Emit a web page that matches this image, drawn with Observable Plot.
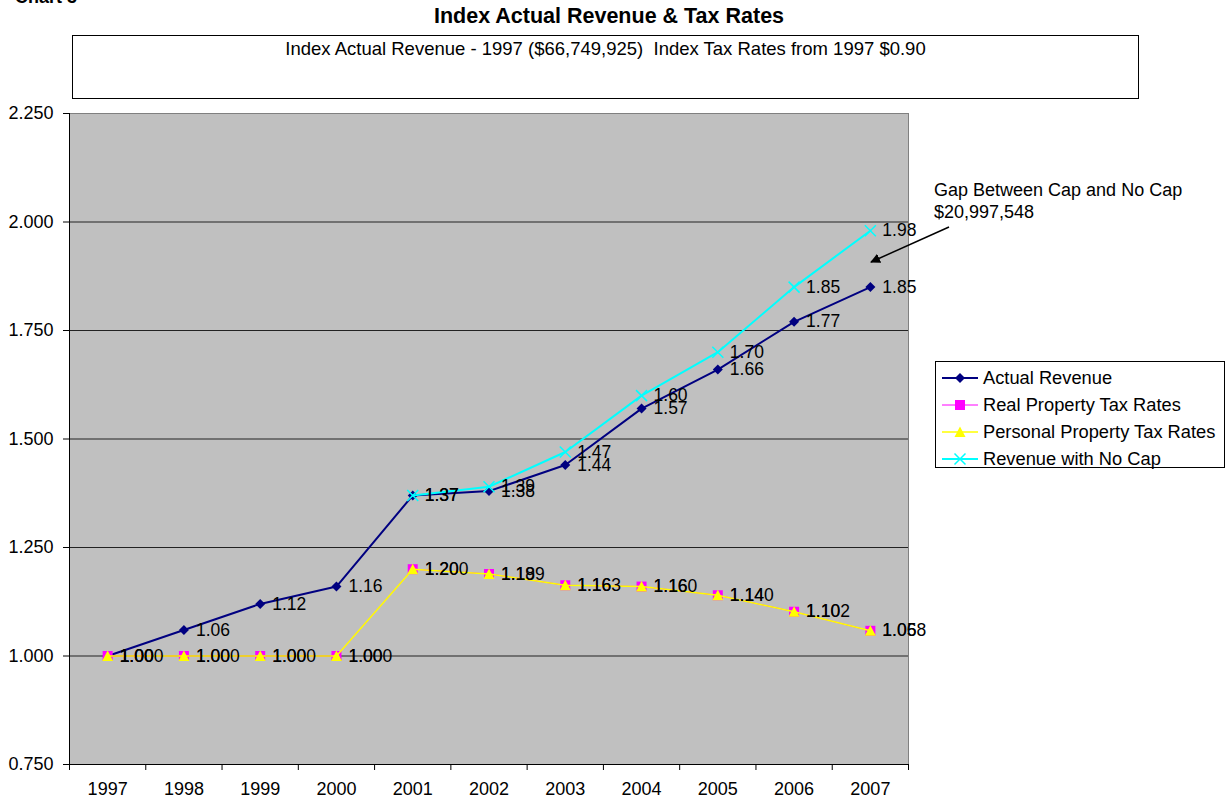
<!DOCTYPE html>
<html>
<head>
<meta charset="utf-8">
<script src="https://cdn.jsdelivr.net/npm/d3@7"></script>
<script src="https://cdn.jsdelivr.net/npm/@observablehq/plot@0.6"></script>
<style>
  html, body { margin: 0; padding: 0; background: #fff; }
  body { font-family: "Liberation Sans", Arial, sans-serif; color: #000; }
  #wrap { position: relative; width: 1228px; height: 801px; overflow: hidden; }
  #chart { position: absolute; left: 0; top: 0; }
  .abs { position: absolute; white-space: nowrap; }
  #chartNo { left: 15px; top: -13px; font-size: 18px; line-height: 20px; font-weight: bold; }
  #title { left: 0; width: 1218px; top: 3px; text-align: center; font-size: 21.5px; line-height: 26px; font-weight: bold; }
  #subtitle { left: 72px; top: 35px; width: 1065px; height: 62px; border: 1.5px solid #000; box-sizing: content-box;
              text-align: center; font-size: 18.5px; line-height: 26px; }
  #legend { left: 935px; top: 361px; width: 290px; height: 107px; border: 1px solid #000; box-sizing: border-box; padding-top: 2px; }
  .item { height: 27px; display: flex; align-items: center; font-size: 18.3px; }
  .item svg { margin-left: 5px; margin-right: 4px; }
  #note { left: 934px; top: 179px; font-size: 18px; line-height: 22px; }
</style>
</head>
<body>
<div id="wrap">
  <div id="chart"></div>
  <div class="abs" id="chartNo">Chart 3</div>
  <div class="abs" id="title">Index Actual Revenue &amp; Tax Rates</div>
  <div class="abs" id="subtitle">Index Actual Revenue - 1997 ($66,749,925)&nbsp; Index Tax Rates from 1997 $0.90</div>
  <div class="abs" id="note">Gap Between Cap and No Cap<br>$20,997,548</div>
  <div class="abs" id="legend"></div>
  <svg class="abs" id="arrow" width="1228" height="801" style="left:0;top:0;pointer-events:none">
    <defs>
      <marker id="head" viewBox="0 0 10 10" refX="9" refY="5" markerWidth="10" markerHeight="10" markerUnits="userSpaceOnUse" orient="auto">
        <path d="M0,0L10,5L0,10Z" fill="#000"/>
      </marker>
    </defs>
    <line x1="949" y1="227" x2="871" y2="262" stroke="#000" stroke-width="1.5" marker-end="url(#head)"/>
  </svg>
</div>
<script>
// Index values by year (1997 = 1.000)
const years = [1997, 1998, 1999, 2000, 2001, 2002, 2003, 2004, 2005, 2006, 2007];
const actualRevenue = [1.00, 1.06, 1.12, 1.16, 1.37, 1.38, 1.44, 1.57, 1.66, 1.77, 1.85];
const realPropertyRates = [1.000, 1.000, 1.000, 1.000, 1.200, 1.189, 1.163, 1.160, 1.140, 1.102, 1.058];
const personalPropertyRates = [1.000, 1.000, 1.000, 1.000, 1.200, 1.189, 1.163, 1.160, 1.140, 1.102, 1.058];
const noCapYears = [2001, 2002, 2003, 2004, 2005, 2006, 2007];
const noCapRevenue = [1.37, 1.39, 1.47, 1.60, 1.70, 1.85, 1.98];
const yTicks = [0.75, 1.00, 1.25, 1.50, 1.75, 2.00, 2.25];
const seriesNames = ["Actual Revenue", "Real Property Tax Rates", "Personal Property Tax Rates", "Revenue with No Cap"];

// Marker shapes; the radius passed to Plot is the half-width of the shape
const half = size => Math.sqrt(size / Math.PI);
const diamond = {draw(c, s) { const r = half(s); c.moveTo(0, -r); c.lineTo(r, 0); c.lineTo(0, r); c.lineTo(-r, 0); c.closePath(); }};
const square = {draw(c, s) { const r = half(s); c.rect(-r, -r, 2 * r, 2 * r); }};
const triangle = {draw(c, s) { const r = half(s); c.moveTo(0, -r); c.lineTo(r, r * 0.9); c.lineTo(-r, r * 0.9); c.closePath(); }};
const times = {draw(c, s) { const r = half(s); c.moveTo(-r, -r); c.lineTo(r, r); c.moveTo(r, -r); c.lineTo(-r, r); }};

const rows = (xs, ys) => xs.map((x, i) => ({x, y: ys[i]}));

const series = [
  {name: seriesNames[0], data: rows(years, actualRevenue), color: "#000080", symbol: diamond, r: 5, lw: 2, fmt: d3.format(".2f"), filled: true},
  {name: seriesNames[1], data: rows(years, realPropertyRates), color: "#ff00ff", symbol: square, r: 5, lw: 1, fmt: d3.format(".3f"), filled: true},
  {name: seriesNames[2], data: rows(years, personalPropertyRates), color: "#ffff00", symbol: triangle, r: 5.5, lw: 1.5, fmt: d3.format(".2f"), filled: true},
  {name: seriesNames[3], data: rows(noCapYears, noCapRevenue), color: "#00ffff", symbol: times, r: 5.5, lw: 2, fmt: d3.format(".2f"), filled: false}
];

const dotOpts = s => s.filled
  ? {x: "x", y: "y", symbol: () => s.symbol, r: s.r, fill: s.color, stroke: "none"}
  : {x: "x", y: "y", symbol: () => s.symbol, r: s.r, fill: "none", stroke: s.color, strokeWidth: 1.5};

const boundaries = d3.range(years.length + 1).map(i => years[0] - 0.5 + i);

const chart = Plot.plot({
  width: 1228,
  height: 801,
  marginLeft: 69,
  marginRight: 320,
  marginTop: 113,
  marginBottom: 37,
  style: {fontFamily: "'Liberation Sans', Arial, sans-serif", fontSize: "16px", background: "transparent", color: "#000"},
  x: {domain: [boundaries[0], boundaries[boundaries.length - 1]]},
  y: {domain: [yTicks[0], yTicks[yTicks.length - 1]]},
  marks: [
    Plot.frame({fill: "#c0c0c0", stroke: "#808080"}),
    Plot.ruleY(yTicks.slice(1, -1), {stroke: "#222", strokeWidth: 1}),
    Plot.axisY({ticks: yTicks, tickFormat: d3.format(".3f"), tickSize: 6, tickPadding: 10, fontSize: 18, label: null}),
    Plot.axisX({ticks: boundaries, tickSize: 6, tickFormat: () => "", label: null}),
    Plot.axisX({ticks: years, tickSize: 0, tickPadding: 18, tickFormat: d => String(d), fontSize: 18, label: null}),
    Plot.ruleX([boundaries[0]], {stroke: "#000"}),
    Plot.ruleY([yTicks[0]], {stroke: "#000"}),
    ...series.flatMap(s => [
      Plot.line(s.data, {x: "x", y: "y", stroke: s.color, strokeWidth: s.lw}),
      Plot.dot(s.data, dotOpts(s))
    ]),
    ...series.map(s => Plot.text(s.data, {x: "x", y: "y", text: d => s.fmt(d.y), dx: 12, textAnchor: "start", fontSize: 17.5, fill: "#000"}))
  ]
});
document.getElementById("chart").appendChild(chart);

// Legend entries with line and marker samples
const legend = d3.select("#legend");
for (const s of series) {
  const item = legend.append("div").attr("class", "item");
  const svg = item.append("svg").attr("width", 38).attr("height", 20);
  svg.append("line").attr("x1", 1).attr("x2", 37).attr("y1", 10).attr("y2", 10)
    .attr("stroke", s.color).attr("stroke-width", s.lw);
  const p = d3.path();
  s.symbol.draw(p, s.r * s.r * Math.PI);
  svg.append("path").attr("transform", "translate(19,10)").attr("d", p.toString())
    .attr("fill", s.filled ? s.color : "none").attr("stroke", s.filled ? "none" : s.color).attr("stroke-width", 1.5);
  item.append("span").text(s.name);
}
</script>
</body>
</html>
